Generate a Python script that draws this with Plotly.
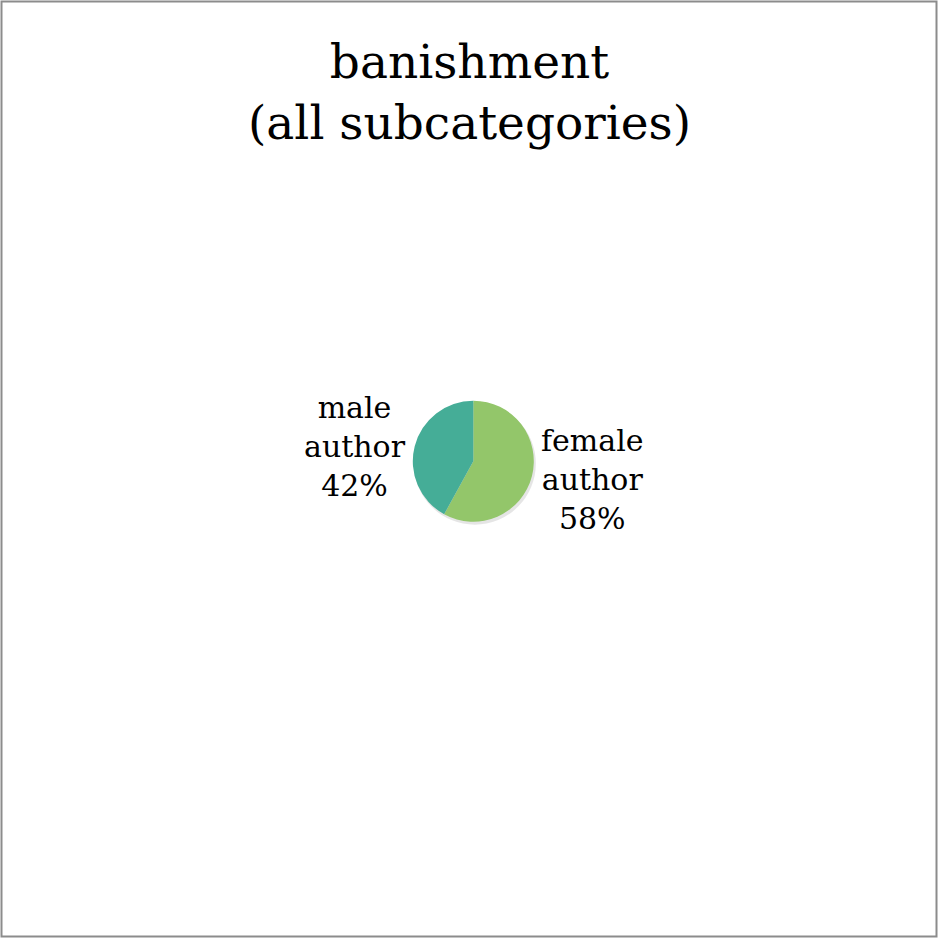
import math
import plotly.graph_objects as go

labels = ["female author", "male author"]
display_labels = ["female<br>author", "male<br>author"]
values = [58, 42]
colors = ["#93C66A", "#45AD97"]
title_text = "banishment<br>(all subcategories)"

W = H = 938
cx, cy, r = 473.3, 461.2, 60.5   # pie centre / radius in pixels (from top-left)
label_gap = 7
FONT = "DejaVu Serif"


def dom(cx_, cy_, r_):
    return dict(x=[(cx_ - r_) / W, (cx_ + r_) / W], y=[(H - cy_ - r_) / H, (H - cy_ + r_) / H])


fig = go.Figure()

# soft drop shadow behind the pie
fig.add_trace(go.Pie(
    values=[sum(values)], labels=["shadow"], sort=False,
    marker=dict(colors=["rgba(0,0,0,0.10)"], line=dict(width=0)),
    textinfo="none", hoverinfo="skip", showlegend=False,
    domain=dom(cx + 1.5, cy + 2.5, r + 0.5),
))

fig.add_trace(go.Pie(
    labels=labels,
    values=values,
    sort=False,
    direction="clockwise",
    rotation=0,
    marker=dict(colors=colors, line=dict(width=0)),
    textinfo="none",
    showlegend=False,
    hoverinfo="label+percent",
    domain=dom(cx, cy, r),
))

# outside labels placed at each slice's mid-angle
total = sum(values)
cum = 0
for lab, v in zip(display_labels, values):
    mid = (cum + v / 2) / total * 2 * math.pi
    cum += v
    dx, dy = math.sin(mid), -math.cos(mid)
    px = cx + dx * (r + label_gap)
    py = cy + dy * (r + label_gap) + 2
    pct = round(v / total * 100)
    fig.add_annotation(
        x=px / W, y=1 - py / H, xref="paper", yref="paper",
        xanchor="left" if dx >= 0 else "right", yanchor="middle",
        text=f"{lab}<br>{pct}%", showarrow=False, align="center",
        font=dict(family=FONT, size=30, color="#000000"),
    )

fig.add_annotation(
    x=469 / W, y=1 - 92 / H, xref="paper", yref="paper",
    xanchor="center", yanchor="middle", showarrow=False, align="center",
    text=title_text, font=dict(family=FONT, size=47, color="#000000"),
)

fig.add_shape(type="rect", xref="paper", yref="paper",
              x0=1.5 / W, x1=936.5 / W, y0=1.5 / H, y1=936.5 / H,
              line=dict(color="#8c8c8c", width=2))

fig.update_layout(
    width=W, height=H,
    margin=dict(l=0, r=0, t=0, b=0),
    paper_bgcolor="white",
    plot_bgcolor="white",
)

fig.write_html("out.html")
